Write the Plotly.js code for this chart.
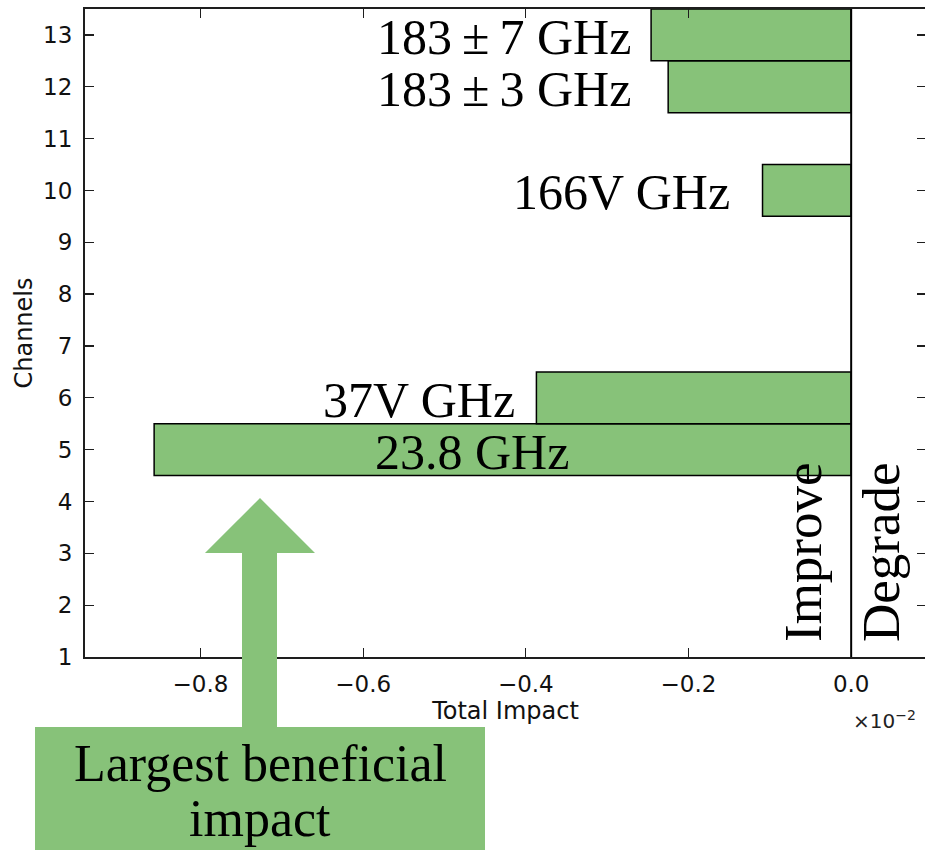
<!DOCTYPE html>
<html>
<head>
<meta charset="utf-8">
<script src="https://cdn.plot.ly/plotly-3.0.1.min.js"></script>
<style>
html, body { margin: 0; padding: 0; overflow: hidden; background: #fff; }
#chart { width: 930px; height: 850px; }
</style>
</head>
<body>
<div id="chart"></div>
<script>
// ---- data ----
const channels = [5, 6, 10, 12, 13];
const impact = [-0.857, -0.387, -0.109, -0.225, -0.246];
const channelLabels = ["23.8 GHz", "37V GHz", "166V GHz", "183\u2009±\u20093 GHz", "183\u2009±\u20097 GHz"];
const xTickVals = [-0.8, -0.6, -0.4, -0.2, 0.0];
const xTickText = ["\u22120.8", "\u22120.6", "\u22120.4", "\u22120.2", "0.0"];
const yTickVals = [1, 2, 3, 4, 5, 6, 7, 8, 9, 10, 11, 12, 13];

// ---- layout geometry ----
const W = 930, H = 850;
const M = { l: 85, r: 4, t: 9, b: 193 };
const PW = W - M.l - M.r, PH = H - M.t - M.b;
const px = v => (v - M.l) / PW;          // pixel x -> paper x
const py = v => (H - M.b - v) / PH;      // pixel y -> paper y

const green = "#87c279";
const dark = "#1e1e1e";
const serif = "Liberation Serif, Times New Roman, serif";
const sans = "DejaVu Sans, sans-serif";

const trace = {
  type: "bar",
  orientation: "h",
  y: channels,
  x: impact,
  width: 1,
  marker: { color: green, line: { color: "#000", width: 1.5 } },
  hoverinfo: "skip"
};

// label anchors (x in axis units, anchor side)
const labelPlace = [
  { x: -0.466, anchor: "center" },
  { x: -0.411, anchor: "right" },
  { x: -0.146, anchor: "right" },
  { x: -0.268, anchor: "right" },
  { x: -0.268, anchor: "right" }
];
const labelAnns = channels.map((c, i) => ({
  x: labelPlace[i].x, y: c, xref: "x", yref: "y",
  text: channelLabels[i],
  showarrow: false,
  xanchor: labelPlace[i].anchor,
  yanchor: "middle",
  yshift: -2,
  font: { family: serif, size: 50, color: "#000" }
}));

const arrowPath = [
  [260, 498], [315, 553], [277, 553], [277, 727], [242, 727], [242, 553], [205, 553]
].map((p, i) => (i ? "L" : "M") + px(p[0]).toFixed(5) + "," + py(p[1]).toFixed(5)).join(" ") + " Z";

const layout = {
  width: W, height: H, autosize: false,
  margin: M,
  paper_bgcolor: "#fff", plot_bgcolor: "#fff",
  showlegend: false,
  bargap: 0,
  xaxis: {
    range: [-0.942, 0.092],
    tickvals: xTickVals, ticktext: xTickText,
    ticks: "inside", ticklen: 9, tickwidth: 1.3, tickcolor: dark,
    showline: true, linecolor: dark, linewidth: 2, mirror: "allticks",
    showgrid: false, zeroline: false,
    tickfont: { family: sans, size: 23, color: "#111" },
    ticklabelstandoff: 5,
    title: { text: "Total Impact", font: { family: sans, size: 24, color: "#111" }, standoff: 6 }
  },
  yaxis: {
    range: [1, 13.5],
    tickvals: yTickVals,
    ticks: "inside", ticklen: 9, tickwidth: 1.3, tickcolor: dark,
    showline: true, linecolor: dark, linewidth: 2, mirror: "allticks",
    showgrid: false, zeroline: false,
    tickfont: { family: sans, size: 23, color: "#111" },
    ticklabelstandoff: 6,
    title: { text: "Channels", font: { family: sans, size: 24, color: "#111" }, standoff: 4 }
  },
  shapes: [
    { type: "line", xref: "x", yref: "paper", x0: 0, x1: 0, y0: 0, y1: 1,
      line: { color: "#000", width: 2 }, layer: "above" },
    { type: "path", xref: "paper", yref: "paper", path: arrowPath,
      fillcolor: green, line: { width: 0 }, layer: "above" },
    { type: "rect", xref: "paper", yref: "paper",
      x0: px(35), x1: px(485), y0: py(727), y1: py(860),
      fillcolor: green, line: { width: 0 }, layer: "above" }
  ],
  annotations: labelAnns.concat([
    { x: px(803), y: py(552), xref: "paper", yref: "paper", text: "Improve",
      textangle: -90, showarrow: false, xanchor: "center", yanchor: "middle",
      font: { family: serif, size: 53, color: "#000" } },
    { x: px(881), y: py(552), xref: "paper", yref: "paper", text: "Degrade",
      textangle: -90, showarrow: false, xanchor: "center", yanchor: "middle",
      font: { family: serif, size: 53, color: "#000" } },
    { x: px(260), y: py(763), xref: "paper", yref: "paper",
      text: "Largest beneficial", showarrow: false,
      xanchor: "center", yanchor: "middle",
      font: { family: serif, size: 52, color: "#000" } },
    { x: px(260), y: py(818), xref: "paper", yref: "paper",
      text: "impact", showarrow: false,
      xanchor: "center", yanchor: "middle",
      font: { family: serif, size: 52, color: "#000" } },
    { x: px(851), y: py(720), xref: "paper", yref: "paper",
      text: "×10<sup>\u22122</sup>", showarrow: false,
      xanchor: "left", yanchor: "middle",
      font: { family: sans, size: 20, color: "#222" } }
  ])
};

Plotly.newPlot("chart", [trace], layout, { displayModeBar: false, staticPlot: true });
</script>
</body>
</html>
